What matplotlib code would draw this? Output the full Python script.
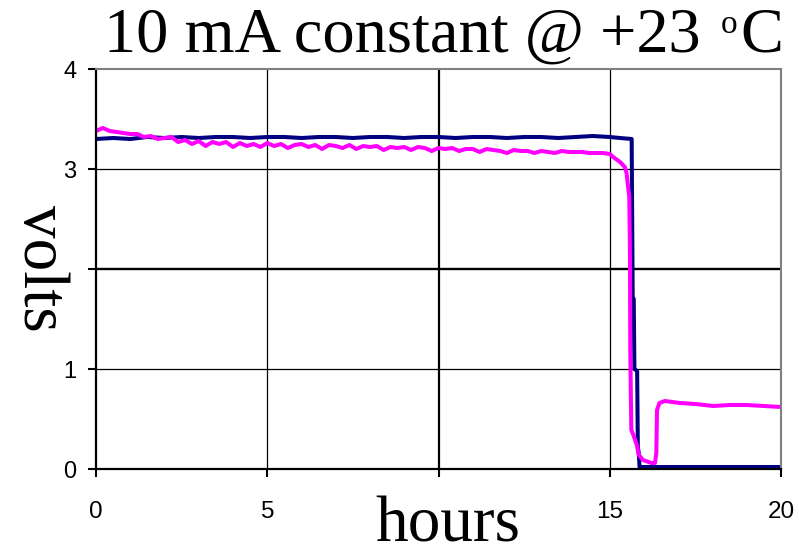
import matplotlib
matplotlib.use("Agg")
import matplotlib.pyplot as plt

# ---- data ----
navy_hours = [0.0, 0.5, 1.0, 1.5, 2.0, 2.5, 3.0, 3.5, 4.0, 4.5, 5.0, 5.5, 6.0, 6.5,
              7.0, 7.5, 8.0, 8.5, 9.0, 9.5, 10.0, 10.5, 11.0, 11.5, 12.0, 12.5,
              13.0, 13.5, 14.0, 14.5, 15.0, 15.3, 15.64, 15.67, 15.70, 15.72,
              15.80, 15.82, 15.85, 15.87, 20.0]
navy_volts = [3.30, 3.31, 3.30, 3.32, 3.31, 3.32, 3.31, 3.32, 3.32, 3.31, 3.32, 3.32,
              3.31, 3.32, 3.32, 3.31, 3.32, 3.32, 3.31, 3.32, 3.32, 3.31, 3.32, 3.32,
              3.31, 3.32, 3.32, 3.31, 3.32, 3.33, 3.32, 3.31, 3.30, 1.72, 1.70, 1.00,
              0.98, 0.22, 0.15, 0.02, 0.02]

magenta_hours = [0.0, 0.2, 0.4, 0.6, 0.8, 1.0, 1.2, 1.4, 1.6, 1.8, 2.0, 2.2, 2.4, 2.6,
                 2.8, 3.0, 3.2, 3.4, 3.6, 3.8, 4.0, 4.2, 4.4, 4.6, 4.8, 5.0, 5.2, 5.4,
                 5.6, 5.8, 6.0, 6.2, 6.4, 6.6, 6.8, 7.0, 7.2, 7.4, 7.6, 7.8, 8.0, 8.2,
                 8.4, 8.6, 8.8, 9.0, 9.2, 9.4, 9.6, 9.8, 10.0, 10.2, 10.4, 10.6, 10.8,
                 11.0, 11.2, 11.4, 11.6, 11.8, 12.0, 12.2, 12.4, 12.6, 12.8, 13.0,
                 13.2, 13.4, 13.6, 13.8, 14.0, 14.2, 14.4, 14.6, 14.8, 15.0,
                 15.1, 15.3, 15.44, 15.49, 15.57, 15.59, 15.60, 15.63, 15.69, 15.79,
                 15.85, 15.97, 16.22, 16.32, 16.36, 16.38, 16.45, 16.61, 17.05, 17.5,
                 18.02, 18.5, 19.0, 19.5, 20.0]
magenta_volts = [3.38, 3.41, 3.38, 3.37, 3.36, 3.35, 3.35, 3.32, 3.33, 3.30, 3.31, 3.32,
                 3.27, 3.29, 3.25, 3.28, 3.23, 3.27, 3.25, 3.27, 3.22, 3.26, 3.23, 3.25,
                 3.22, 3.26, 3.23, 3.25, 3.21, 3.24, 3.25, 3.22, 3.24, 3.20, 3.24, 3.23,
                 3.21, 3.24, 3.20, 3.23, 3.22, 3.23, 3.19, 3.22, 3.21, 3.22, 3.19, 3.22,
                 3.21, 3.18, 3.21, 3.20, 3.21, 3.18, 3.20, 3.20, 3.17, 3.20, 3.19, 3.18,
                 3.16, 3.19, 3.18, 3.18, 3.16, 3.18, 3.17, 3.16, 3.18, 3.17, 3.17, 3.17,
                 3.16, 3.16, 3.16, 3.15,
                 3.12, 3.07, 3.02, 2.96, 2.72, 2.16, 1.16, 0.39, 0.34, 0.24,
                 0.14, 0.09, 0.06, 0.06, 0.16, 0.59, 0.66, 0.68, 0.66, 0.65,
                 0.63, 0.64, 0.64, 0.63, 0.62]

x_ticks = [0, 5, 10, 15, 20]
x_tick_labels = ['0', '5', '', '15', '20']
y_ticks = [0, 1, 2, 3, 4]
y_tick_labels = ['0', '1', '', '3', '4']

title_main = '10 mA constant @ +23'
title_sup = 'o'
title_end = 'C'
x_label = 'hours'
y_label = 'volts'

# ---- figure ----
W, H = 799, 549
fig = plt.figure(figsize=(W / 100, H / 100), dpi=100)
ax = fig.add_axes([96 / W, 1 - 469 / H, 685 / W, 400 / H])

ax.set_xlim(0, 20)
ax.set_ylim(0, 4)

# gridlines
for xv in x_ticks[1:-1]:
    ax.axvline(xv, color='black', lw=1.6 if xv == 10 else 0.9, zorder=1)
for yv in y_ticks[1:-1]:
    ax.axhline(yv, color='black', lw=1.7 if yv == 2 else 0.9, zorder=1)

ax.plot(navy_hours, navy_volts, color='#000080', lw=2.9, zorder=3,
        solid_joinstyle='round', solid_capstyle='round')
ax.plot(magenta_hours, magenta_volts, color='#FF00FF', lw=2.9, zorder=4,
        solid_joinstyle='round', solid_capstyle='round')

# spines
ax.spines['left'].set_color('black')
ax.spines['left'].set_linewidth(1.6)
ax.spines['bottom'].set_color('black')
ax.spines['bottom'].set_linewidth(1.6)
ax.spines['top'].set_color('#808080')
ax.spines['top'].set_linewidth(1.5)
ax.spines['right'].set_color('#808080')
ax.spines['right'].set_linewidth(1.5)
for s in ax.spines.values():
    s.set_zorder(5)

ax.set_xticks(x_ticks)
ax.set_xticklabels(x_tick_labels, fontfamily='Liberation Sans', fontsize=17.5)
ax.set_yticks(y_ticks)
ax.set_yticklabels(y_tick_labels, fontfamily='Liberation Sans', fontsize=17)
ax.tick_params(axis='x', direction='out', length=6, width=1.5, pad=17, color='black')
ax.tick_params(axis='y', direction='out', length=6, width=1.5, pad=8, color='black')

# title in pieces (superscript o)
renderer = fig.canvas.get_renderer()
t1 = fig.text(104 / W, 1 - 52 / H, title_main, ha='left', va='baseline',
              fontfamily='Liberation Serif', fontsize=46.4)
bb1 = t1.get_window_extent(renderer)
t2 = fig.text((bb1.x1 + 20) / W, 1 - 33 / H, title_sup, ha='left', va='baseline',
              fontfamily='Liberation Serif', fontsize=24)
bb2 = t2.get_window_extent(renderer)
fig.text((bb2.x1 + 3) / W, 1 - 52 / H, title_end, ha='left', va='baseline',
         fontfamily='Liberation Serif', fontsize=46.4)

ax.text(0.514, -0.18, x_label, transform=ax.transAxes, ha='center', va='baseline',
        fontfamily='Liberation Serif', fontsize=47)
ax.text(-0.082, 0.5025, y_label, transform=ax.transAxes, ha='center', va='center',
        rotation=270, fontfamily='Liberation Serif', fontsize=47)

fig.savefig('out.png', dpi=100)
